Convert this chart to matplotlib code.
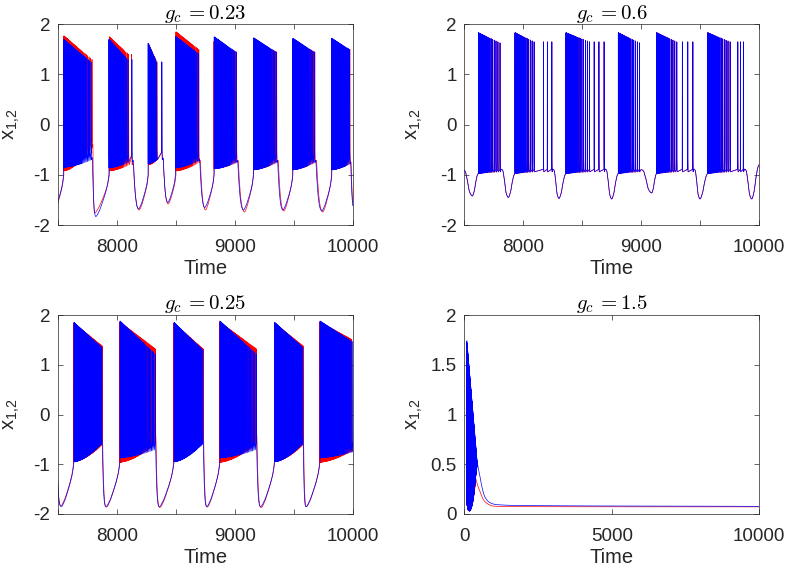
import numpy as np
import matplotlib
matplotlib.use('Agg')
import matplotlib.pyplot as plt

plt.rcParams['font.family'] = ['Liberation Sans', 'DejaVu Sans']
plt.rcParams['path.simplify'] = False

# ---------------------------------------------------------------
# Values
# ---------------------------------------------------------------
titles = [r'$g_c\,{=}0.23$', r'$g_c\,{=}0.6$', r'$g_c\,{=}0.25$', r'$g_c\,{=}1.5$']

xticks_late = [7500, 8000, 8500, 9000, 9500, 10000]
xticklabels_late = ['', '8000', '', '9000', '', '10000']
yticks_pm2 = [-2, -1, 0, 1, 2]
yticklabels_pm2 = ['-2', '-1', '0', '1', '2']
xticks_full = [0, 5000, 10000]
xticklabels_full = ['0', '5000', '10000']
yticks_pos = [0, 0.5, 1, 1.5, 2]
yticklabels_pos = ['0', '0.5', '1', '1.5', '2']

# ---- g_c = 0.23 : blue (x2) ----
A_blue_onset = [7550, 7934, 8266, 8498, 8826, 9160, 9493, 9823]
A_blue_dense_end = [7782, 8095, 8338, 8690, 9011, 9350, 9673, 9972]
A_blue_extra = [[], [8128], [8382], [], [], [], [], []]
A_blue_nspk = [38, 28, 18, 34, 32, 32, 30, 28]
A_blue_peak0 = [1.70, 1.70, 1.62, 1.76, 1.75, 1.73, 1.72, 1.72]
A_blue_peak1 = [1.25, 1.30, 1.25, 1.42, 1.45, 1.45, 1.45, 1.50]
A_blue_trough0 = [-0.85, -0.86, -0.78, -0.86, -0.88, -0.90, -0.90, -0.90]
A_blue_trough1 = [-0.70, -0.75, -0.70, -0.72, -0.75, -0.75, -0.75, -0.78]
A_blue_min_t = [7460, 7822, 8185, 8433, 8746, 9074, 9408, 9738, 10012]
A_blue_min_x = [-1.75, -1.83, -1.68, -1.55, -1.65, -1.70, -1.70, -1.72, -1.72]
# ---- g_c = 0.23 : red (x1) ----
A_red_onset = [7552, 7938, 8268, 8502, 8824, 9158, 9491, 9821]
A_red_dense_end = [7790, 8100, 8340, 8695, 9015, 9355, 9678, 9975]
A_red_extra = [[], [8125], [8380], [], [], [], [], []]
A_red_nspk = [38, 28, 18, 34, 32, 32, 30, 28]
A_red_peak0 = [1.77, 1.75, 1.62, 1.85, 1.66, 1.66, 1.66, 1.66]
A_red_peak1 = [1.30, 1.40, 1.25, 1.50, 1.45, 1.45, 1.45, 1.50]
A_red_trough0 = [-0.92, -0.92, -0.80, -0.92, -0.88, -0.90, -0.90, -0.90]
A_red_trough1 = [-0.45, -0.80, -0.70, -0.75, -0.75, -0.75, -0.75, -0.78]
A_red_min_t = [7465, 7812, 8190, 8436, 8752, 9082, 9416, 9746, 10015]
A_red_min_x = [-1.75, -1.76, -1.70, -1.58, -1.70, -1.74, -1.72, -1.74, -1.74]
A_start = (7420, -0.80)
A_stop = (10120, -1.00)
A_onset_x = -1.00

# ---- g_c = 0.6 : both traces coincide ----
B_onset = [7619, 7930, 8362, 8805, 9130, 9563]
B_dense_end = [7802, 8091, 8560, 8983, 9300, 9752]
B_extra = [[], [8170, 8203, 8241], [8600, 8640, 8684], [], [9347, 9393, 9436], [9817, 9839, 9864]]
B_nspk = [30, 28, 32, 30, 29, 31]
B_peak0 = [1.83, 1.83, 1.83, 1.83, 1.83, 1.83]
B_peak1 = [1.63, 1.65, 1.65, 1.63, 1.65, 1.65]
B_trough0 = [-0.97, -0.97, -0.97, -0.97, -0.97, -0.97]
B_trough1 = [-0.94, -0.94, -0.94, -0.94, -0.94, -0.94]
B_min_t = [7568, 7873, 8302, 8749, 9088, 9497, 9936]
B_min_x = [-1.42, -1.45, -1.47, -1.48, -1.36, -1.48, -1.48]
B_start = (7480, -0.95)
B_stop = (9998, -0.80)
B_onset_x = -0.97

# ---- g_c = 0.25 : blue ----
C_blue_onset = [7638, 8028, 8486, 8875, 9339, 9723]
C_blue_dense_end = [7873, 8325, 8729, 9181, 9576, 10040]
C_blue_extra = [[], [], [], [], [], []]
C_blue_nspk = [48, 40, 48, 42, 48, 44]
C_blue_peak0 = [1.85, 1.88, 1.85, 1.88, 1.85, 1.88]
C_blue_peak1 = [1.35, 1.22, 1.30, 1.22, 1.35, 1.40]
C_blue_trough0 = [-0.95, -0.87, -0.95, -0.87, -0.95, -0.87]
C_blue_trough1 = [-0.58, -0.70, -0.58, -0.70, -0.58, -0.72]
C_blue_min_t = [7530, 7909, 8361, 8763, 9220, 9604]
C_blue_min_x = [-1.85, -1.85, -1.85, -1.85, -1.85, -1.85]
# ---- g_c = 0.25 : red ----
C_red_onset = [7636, 8026, 8484, 8873, 9337, 9721]
C_red_dense_end = [7876, 8328, 8732, 9184, 9579, 10040]
C_red_extra = [[], [], [], [], [], []]
C_red_nspk = [48, 52, 48, 52, 48, 52]
C_red_peak0 = [1.84, 1.86, 1.84, 1.86, 1.84, 1.86]
C_red_peak1 = [1.38, 1.32, 1.32, 1.32, 1.38, 1.45]
C_red_trough0 = [-0.95, -0.96, -0.95, -0.96, -0.95, -0.96]
C_red_trough1 = [-0.60, -0.58, -0.55, -0.58, -0.60, -0.65]
C_red_min_t = [7528, 7913, 8365, 8767, 9224, 9608]
C_red_min_x = [-1.83, -1.86, -1.87, -1.86, -1.87, -1.85]
C_start = (7495, -0.90)
C_onset_x = -0.95

# ---- g_c = 1.5 ----
D_blue_osc = (85, 440, 60)
D_blue_peak = (1.74, 0.50)
D_blue_trough_t = [85, 130, 180, 260, 330, 380, 440]
D_blue_trough_x = [0.10, 0.04, 0.03, 0.08, 0.20, 0.35, 0.50]
D_blue_decay_t = [440, 480, 532, 600, 700, 870, 1100, 2000, 10000]
D_blue_decay_x = [0.52, 0.45, 0.375, 0.27, 0.17, 0.114, 0.094, 0.085, 0.077]
D_red_osc = (85, 385, 52)
D_red_peak = (1.70, 0.60)
D_red_trough_t = [85, 130, 180, 260, 330, 385]
D_red_trough_x = [0.10, 0.04, 0.03, 0.08, 0.20, 0.33]
D_red_decay_t = [385, 450, 532, 620, 700, 871, 983, 1500, 10000]
D_red_decay_x = [0.36, 0.29, 0.225, 0.16, 0.124, 0.09, 0.08, 0.074, 0.072]

# shape of the slow wave between bursts (fractions of the gap)
prof_A = dict(du=[0, 0.12, 0.3, 0.5, 0.75, 1], dv=[0, -0.04, 0.35, 0.72, 0.94, 1],
              ru=[0, 0.25, 0.5, 0.75, 0.9, 1], rv=[0, 0.12, 0.33, 0.58, 0.78, 1])
prof_B = dict(du=[0, 0.12, 0.3, 0.5, 0.75, 1], dv=[0, -0.10, -0.05, 0.3, 0.85, 1],
              ru=[0, 0.3, 0.6, 0.85, 1], rv=[0, 0.2, 0.65, 0.93, 1])
prof_C = dict(du=[0, 0.1, 0.3, 0.55, 0.8, 1], dv=[0, 0.3, 0.7, 0.92, 0.99, 1],
              ru=[0, 0.25, 0.5, 0.75, 0.9, 1], rv=[0, 0.12, 0.33, 0.58, 0.78, 1])


# ---------------------------------------------------------------
# helpers that turn the read values into drawable polylines
# ---------------------------------------------------------------
def pchip(xk, yk, xq):
    xk = np.asarray(xk, float)
    yk = np.asarray(yk, float)
    xq = np.asarray(xq, float)
    h = np.diff(xk)
    dl = np.diff(yk) / h
    n = len(xk)
    m = np.zeros(n)
    m[0] = dl[0]
    m[-1] = dl[-1]
    for i in range(1, n - 1):
        if dl[i - 1] * dl[i] > 0:
            w1 = 2 * h[i] + h[i - 1]
            w2 = h[i] + 2 * h[i - 1]
            m[i] = (w1 + w2) / (w1 / dl[i - 1] + w2 / dl[i])
    i = np.clip(np.searchsorted(xk, xq, side='right') - 1, 0, n - 2)
    s = (xq - xk[i]) / h[i]
    h00 = (1 + 2 * s) * (1 - s) ** 2
    h10 = s * (1 - s) ** 2
    h01 = s ** 2 * (3 - 2 * s)
    h11 = s ** 2 * (s - 1)
    return h00 * yk[i] + h10 * h[i] * m[i] + h01 * yk[i + 1] + h11 * h[i] * m[i + 1]


def gap_curve(E, xE, tm, xm, O, xO, prof):
    du = np.array(prof['du'], float)
    dv = np.array(prof['dv'], float)
    ru = np.array(prof['ru'], float)
    rv = np.array(prof['rv'], float)
    kt = np.concatenate([E + du * (tm - E), tm + ru[1:] * (O - tm)])
    kx = np.concatenate([xE + dv * (xm - xE), xm + rv[1:] * (xO - xm)])
    tq = np.linspace(E, O, max(int((O - E) / 0.5), 4))
    return tq, pchip(kt, kx, tq)


def burst_verts(onset, dense_end, extra, n, p0, p1, tr0, tr1, xO, ratio, dbase, bexp,
                fall_max):
    k = np.arange(n - 1)
    w = ratio ** (k / max(n - 2, 1))
    d = w * (dense_end - onset) / w.sum()
    times = onset + np.concatenate([[0.0], np.cumsum(d)])
    f = (times - onset) / (dense_end - onset)
    peaks = p0 + (p1 - p0) * f
    troughs = tr0 + (tr1 - tr0) * f ** bexp
    if extra:
        times = np.concatenate([times, extra])
        peaks = np.concatenate([peaks, [p1] * len(extra)])
        troughs = np.concatenate([troughs, [tr1] * len(extra)])
    isi = np.diff(times)
    isi = np.append(isi, isi[-1])
    rise = np.minimum(0.8, 0.2 * isi)
    fall = np.minimum(fall_max, 0.55 * isi)
    bases = troughs + dbase
    bases[0] = xO
    mid = troughs + 0.1 * (peaks - troughs)
    tt = np.column_stack([times, times + rise, times + rise + 0.35 * fall,
                          times + rise + fall]).ravel()
    xx = np.column_stack([bases, peaks, mid, troughs]).ravel()
    return tt, xx, tt[-1], xx[-1]


def build_trace(start, onset, dense_end, extra, nspk, p0, p1, tr0, tr1,
                min_t, min_x, xO, prof, ratio, dbase, bexp, fall_max, stop=None):
    ts, xs = [], []
    E, xE = start
    for k in range(len(onset)):
        gt, gx = gap_curve(E, xE, min_t[k], min_x[k], onset[k], xO, prof)
        ts.append(gt)
        xs.append(gx)
        bt, bx, E, xE = burst_verts(onset[k], dense_end[k], extra[k], nspk[k],
                                    p0[k], p1[k], tr0[k], tr1[k], xO, ratio, dbase, bexp,
                                    fall_max)
        ts.append(bt)
        xs.append(bx)
    if stop is not None and len(min_t) > len(onset):
        gt, gx = gap_curve(E, xE, min_t[-1], min_x[-1], stop[0], stop[1], prof)
        ts.append(gt)
        xs.append(gx)
    return np.concatenate(ts), np.concatenate(xs)


def build_decay(osc, peak, trough_t, trough_x, decay_t, decay_x):
    t0, t1, n = osc
    times = np.linspace(t0, t1, n)
    peaks = peak[0] + (peak[1] - peak[0]) * (times - t0) / (t1 - t0)
    troughs = pchip(trough_t, trough_x, times)
    half = (times[1] - times[0]) / 2
    tt = np.column_stack([times, times + half]).ravel()
    xx = np.column_stack([troughs, peaks]).ravel()
    dt = np.linspace(decay_t[0], decay_t[-1], 3000)
    dx = pchip(decay_t, decay_x, dt)
    return np.concatenate([tt, dt]), np.concatenate([xx, dx])


# traces
A_red = build_trace(A_start, A_red_onset, A_red_dense_end, A_red_extra, A_red_nspk,
                    A_red_peak0, A_red_peak1, A_red_trough0, A_red_trough1,
                    A_red_min_t, A_red_min_x, A_onset_x, prof_A, 5.0, 0.15, 1.6, 5.0, A_stop)
A_blue = build_trace(A_start, A_blue_onset, A_blue_dense_end, A_blue_extra, A_blue_nspk,
                     A_blue_peak0, A_blue_peak1, A_blue_trough0, A_blue_trough1,
                     A_blue_min_t, A_blue_min_x, A_onset_x, prof_A, 5.0, 0.15, 1.6, 5.0, A_stop)
B_red = build_trace(B_start, B_onset, B_dense_end, B_extra, B_nspk,
                    B_peak0, B_peak1, B_trough0, B_trough1,
                    B_min_t, B_min_x, B_onset_x, prof_B, 15.0, 0.05, 1.0, 2.5, B_stop)
B_blue = build_trace(B_start, B_onset, B_dense_end, B_extra, B_nspk,
                     B_peak0, B_peak1, B_trough0, B_trough1,
                     B_min_t, B_min_x, B_onset_x, prof_B, 15.0, 0.05, 1.0, 2.5, B_stop)
C_red = build_trace(C_start, C_red_onset, C_red_dense_end, C_red_extra, C_red_nspk,
                    C_red_peak0, C_red_peak1, C_red_trough0, C_red_trough1,
                    C_red_min_t, C_red_min_x, C_onset_x, prof_C, 3.0, 0.15, 1.6, 5.0)
C_blue = build_trace(C_start, C_blue_onset, C_blue_dense_end, C_blue_extra, C_blue_nspk,
                     C_blue_peak0, C_blue_peak1, C_blue_trough0, C_blue_trough1,
                     C_blue_min_t, C_blue_min_x, C_onset_x, prof_C, 3.0, 0.15, 1.6, 5.0)
D_red = build_decay(D_red_osc, D_red_peak, D_red_trough_t, D_red_trough_x,
                    D_red_decay_t, D_red_decay_x)
D_blue = build_decay(D_blue_osc, D_blue_peak, D_blue_trough_t, D_blue_trough_x,
                     D_blue_decay_t, D_blue_decay_x)

# ---------------------------------------------------------------
# figure
# ---------------------------------------------------------------
fig = plt.figure(figsize=(7.89, 5.69), dpi=100)
W, H = 789.0, 569.0
axw = 295 / W
pos = [
    [57.7 / W, 1 - 225 / H, axw, (225 - 24.3) / H],
    [464.3 / W, 1 - 225 / H, axw, (225 - 24.3) / H],
    [57.7 / W, 1 - 514 / H, axw, (514 - 315) / H],
    [464.3 / W, 1 - 514 / H, axw, (514 - 315) / H],
]
data = [(A_red, A_blue), (B_red, B_blue), (C_red, C_blue), (D_red, D_blue)]
axc = '#262626'

for i in range(4):
    ax = fig.add_axes(pos[i])
    red, blue = data[i]
    ax.plot(red[0], red[1], color='#FF0000', lw=0.5)
    ax.plot(blue[0], blue[1], color='#0000FF', lw=0.5)
    if i < 3:
        ax.set_xlim(7500, 10000)
        ax.set_ylim(-2, 2)
        ax.set_xticks(xticks_late)
        ax.set_xticklabels(xticklabels_late)
        ax.set_yticks(yticks_pm2)
        ax.set_yticklabels(yticklabels_pm2)
    else:
        ax.set_xlim(0, 10000)
        ax.set_ylim(0, 2)
        ax.set_xticks(xticks_full)
        ax.set_xticklabels(xticklabels_full)
        ax.set_yticks(yticks_pos)
        ax.set_yticklabels(yticklabels_pos)
    ax.tick_params(axis='both', direction='in', top=True, right=True, length=3.5,
                   width=0.5, colors=axc, labelsize=13.5)
    ax.tick_params(axis='x', pad=10)
    ax.tick_params(axis='y', pad=5.5)
    for sp in ax.spines.values():
        sp.set_linewidth(0.5)
        sp.set_color(axc)
    ax.set_xlabel('Time', fontsize=14.5, color=axc, labelpad=2)
    ax.set_ylabel(r'x$_{\mathregular{1{,}2}}$', fontsize=14.5, color=axc)
    ax.yaxis.set_label_coords(-0.122 if i % 2 == 0 else -0.133, 0.5)
    ax.set_title(titles[i], math_fontfamily='cm', fontsize=15, color='black', pad=4)

fig.savefig('out.png', dpi=100)
